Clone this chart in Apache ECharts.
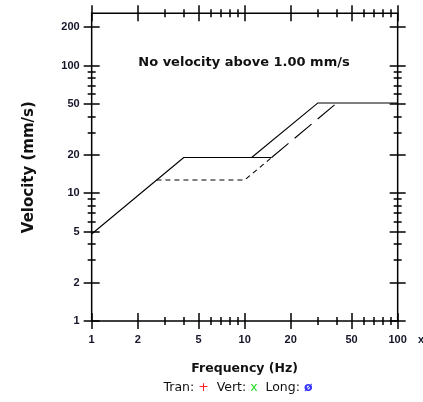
<!DOCTYPE html>
<html>
<head>
<meta charset="utf-8">
<script src="https://cdn.jsdelivr.net/npm/echarts@6/dist/echarts.min.js"></script>
<style>
html,body{margin:0;padding:0;background:#fff;}
#chart{width:423px;height:402px;}
</style>
</head>
<body>
<div id="chart"></div>
<script>
// ---- data ----
const xMajorTicks = [1, 2, 5, 10, 20, 50, 100];
const yMajorTicks = [1, 2, 5, 10, 20, 50, 100, 200];
const minorTicks = [3, 4, 6, 7, 8, 9, 30, 40, 60, 70, 80, 90];
const xMin = 1, xMax = 100;
const yMin = 1, yMax = 256;

// solid criterion line (low freq)
const solidAX = [1, 4, 15];
const solidAY = [4.8, 19.05, 19.05];
// solid criterion line (high freq)
const solidBX = [11.1, 30, 100];
const solidBY = [19.05, 50.8, 50.8];
// short-dashed line
const dashAX = [2.65, 10, 15];
const dashAY = [12.7, 12.7, 19.05];
// long-dashed line
const dashBX = [15, 40];
const dashBY = [19.05, 50.8];

const titleText = 'No velocity above 1.00 mm/s';
const xName = 'Frequency (Hz)';
const yName = 'Velocity (mm/s)';

function pairs(xs, ys) { return xs.map((x, i) => [x, ys[i]]); }

const labelFont = { fontFamily: 'Liberation Sans', fontWeight: 'bold', fontSize: 11, color: '#15152a' };
const tickLine = { color: '#000', width: 1.5 };

function baseAxis(kind, pos) {
  const isX = kind === 'x';
  return {
    type: 'log', logBase: 10, position: pos,
    min: isX ? xMin : yMin, max: isX ? xMax : yMax,
    axisLine: { show: false, onZero: false },
    axisLabel: { show: false },
    axisTick: { show: false },
    splitLine: { show: false },
    minorTick: { show: false },
    minorSplitLine: { show: false }
  };
}
function tickAxis(kind, pos, values, half) {
  const a = baseAxis(kind, pos);
  a.offset = -half;
  a.axisTick = { show: true, inside: false, length: half * 2, lineStyle: tickLine, customValues: values };
  return a;
}

const xAxes = [];
const yAxes = [];
// label axes
const xl = baseAxis('x', 'bottom');
xl.axisLabel = Object.assign({ show: true, margin: 13, customValues: xMajorTicks }, labelFont);
xl.name = xName; xl.nameLocation = 'middle'; xl.nameGap = 41;
xl.nameTextStyle = { fontFamily: 'DejaVu Sans', fontWeight: 'bold', fontSize: 12.5, color: '#111' };
xAxes.push(xl);
const yl = baseAxis('y', 'left');
yl.axisLabel = Object.assign({ show: true, margin: 12, customValues: yMajorTicks }, labelFont);
yl.name = yName; yl.nameLocation = 'middle'; yl.nameGap = 55; yl.nameRotate = 90;
yl.nameTextStyle = { fontFamily: 'DejaVu Sans', fontWeight: 'bold', fontSize: 15, color: '#111' };
yAxes.push(yl);
// tick axes (crossing ticks on all four sides)
['bottom', 'top'].forEach(p => {
  xAxes.push(tickAxis('x', p, xMajorTicks, 8));
  xAxes.push(tickAxis('x', p, minorTicks, 4));
});
['left', 'right'].forEach(p => {
  yAxes.push(tickAxis('y', p, yMajorTicks, 8));
  yAxes.push(tickAxis('y', p, minorTicks, 4));
});

const lineSeries = (data, type, w) => ({
  type: 'line', data: data, xAxisIndex: 0, yAxisIndex: 0,
  symbol: 'none', silent: true, animation: false,
  lineStyle: { color: '#000', width: w, type: type }
});

const chart = echarts.init(document.getElementById('chart'), null, { renderer: 'canvas' });
chart.setOption({
  animation: false,
  backgroundColor: '#fff',
  grid: { left: 91.67, right: 25.33, top: 13.33, bottom: 81, show: true, borderColor: '#000', borderWidth: 1.5, backgroundColor: 'transparent' },
  xAxis: xAxes,
  yAxis: yAxes,
  series: [
    lineSeries(pairs(solidAX, solidAY), 'solid', 1.1),
    lineSeries(pairs(solidBX, solidBY), 'solid', 1.1),
    lineSeries(pairs(dashAX, dashAY), [5, 4], 1.1),
    lineSeries(pairs(dashBX, dashBY), [22, 8], 1.1)
  ],
  graphic: [
    { type: 'text', style: { x: 244, y: 63, text: titleText, textAlign: 'center', textVerticalAlign: 'middle', font: 'bold 13px "DejaVu Sans"', fill: '#111' } },
    { type: 'text', style: { x: 238, y: 388, textAlign: 'center', textVerticalAlign: 'middle',
        text: '{k|Tran: }{r|+}{k|  Vert: }{g|x}{k|  Long: }{b|ø}',
        rich: {
          k: { fontFamily: 'DejaVu Sans', fontSize: 12.5, fill: '#111' },
          r: { fontFamily: 'DejaVu Sans', fontSize: 12.5, fill: '#ff2020' },
          g: { fontFamily: 'DejaVu Sans', fontSize: 12.5, fill: '#22dd22' },
          b: { fontFamily: 'DejaVu Sans', fontSize: 12.5, fill: '#3333ff', fontWeight: 'bold' }
        } } },
    { type: 'text', style: { x: 418, y: 340, text: 'x', textVerticalAlign: 'middle', font: 'bold 11px "Liberation Sans"', fill: '#15152a' } }
  ]
});
</script>
</body>
</html>
